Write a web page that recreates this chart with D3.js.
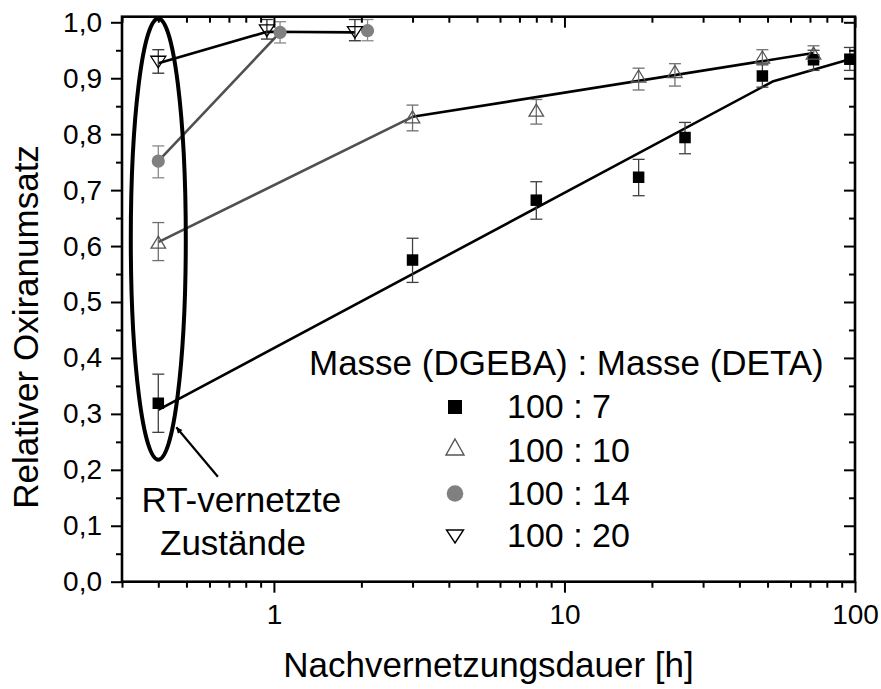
<!DOCTYPE html>
<html><head><meta charset="utf-8">
<script src="https://cdn.jsdelivr.net/npm/d3@7/dist/d3.min.js"></script>
<style>
body{margin:0;background:#fff}
svg{display:block}
text{font-family:"Liberation Sans", Arial, Helvetica, sans-serif;fill:#000}
</style>
</head><body>
<svg id="c" width="881" height="689"></svg>
<script>
// ---------- tick definitions ----------
const xTicksMajor = [1, 10, 100];
const xTickLabels = ["1", "10", "100"];
const xTicksMinor = [0.3, 0.4, 0.5, 0.6, 0.7, 0.8, 0.9, 2, 3, 4, 5, 6, 7, 8, 9, 20, 30, 40, 50, 60, 70, 80, 90];
const yTicksMajor = [0, 0.1, 0.2, 0.3, 0.4, 0.5, 0.6, 0.7, 0.8, 0.9, 1.0];
const yTickLabels = ["0,0", "0,1", "0,2", "0,3", "0,4", "0,5", "0,6", "0,7", "0,8", "0,9", "1,0"];
const yTicksMinor = [0.05, 0.15, 0.25, 0.35, 0.45, 0.55, 0.65, 0.75, 0.85, 0.95];

// ---------- series: 100 : 7 (filled squares) ----------
const t7  = [0.4, 3, 8, 18, 26, 48, 72, 96];
const v7  = [0.319, 0.575, 0.682, 0.723, 0.794, 0.904, 0.933, 0.934];
const lo7 = [0.267, 0.535, 0.648, 0.690, 0.765, 0.884, 0.914, 0.914];
const hi7 = [0.371, 0.614, 0.715, 0.755, 0.821, 0.924, 0.950, 0.955];

// ---------- series: 100 : 10 (open triangles) ----------
const t10  = [0.4, 3, 8, 18, 24, 48, 72];
const v10  = [0.607, 0.831, 0.843, 0.904, 0.912, 0.938, 0.945];
const lo10 = [0.574, 0.806, 0.818, 0.879, 0.886, 0.926, 0.930];
const hi10 = [0.642, 0.852, 0.862, 0.918, 0.926, 0.951, 0.958];

// ---------- series: 100 : 14 (grey circles) ----------
const t14  = [0.4, 1.05, 2.1];
const v14  = [0.752, 0.982, 0.985];
const lo14 = [0.722, 0.963, 0.967];
const hi14 = [0.779, 1.001, 1.005];

// ---------- series: 100 : 20 (open down triangles) ----------
const t20  = [0.4, 0.946, 1.9];
const v20  = [0.929, 0.985, 0.982];
const lo20 = [0.909, 0.970, 0.967];
const hi20 = [0.951, 1.005, 1.005];

// ---------- fitted guide lines ----------
const fit7T  = [0.4, 52, 96];     const fit7V  = [0.307, 0.894, 0.934];
const fit10aT = [0.4, 3];         const fit10aV = [0.607, 0.831];
const fit10bT = [3, 72];          const fit10bV = [0.831, 0.945];
const fit14T = [0.4, 1.05];       const fit14V = [0.752, 0.982];
const fit20T = [0.4, 0.946, 1.9]; const fit20V = [0.927, 0.983, 0.982];

// ---------- legend / labels ----------
const legendTitle = "Masse (DGEBA) : Masse (DETA)";
const legendLabels = ["100 : 7", "100 : 10", "100 : 14", "100 : 20"];
const xTitle = "Nachvernetzungsdauer [h]";
const yTitle = "Relativer Oxiranumsatz";
const noteLines = ["RT-vernetzte", "Zustände"];

// ---------- layout ----------
const L = 122, R = 855, T = 16.7, B = 581.7;
const svg = d3.select("#c");
const x = d3.scaleLog().domain([0.3, 100]).range([L, R]);
const y = d3.scaleLinear().domain([0, 1.01]).range([B, T]);

const GREY_LINE = "#505050";

// ---------- guide lines ----------
const line = d3.line().x(d => x(d[0])).y(d => y(d[1]));
function drawFit(ts, vs, color) {
  svg.append("path").attr("d", line(d3.zip(ts, vs)))
    .attr("fill", "none").attr("stroke", color).attr("stroke-width", 2.6)
    .attr("stroke-linejoin", "round");
}
drawFit(fit7T, fit7V, "#000");
drawFit(fit10aT, fit10aV, GREY_LINE);
drawFit(fit10bT, fit10bV, "#000");
drawFit(fit14T, fit14V, GREY_LINE);
drawFit(fit20T, fit20V, "#000");

// ---------- error bars ----------
function drawErr(ts, lo, hi, color) {
  const g = svg.append("g").attr("stroke", color).attr("stroke-width", 1.3).attr("fill", "none");
  ts.forEach((t, i) => {
    const cx = x(t), y1 = y(lo[i]), y2 = y(hi[i]);
    g.append("line").attr("x1", cx).attr("x2", cx).attr("y1", y1).attr("y2", y2);
    g.append("line").attr("x1", cx - 6).attr("x2", cx + 6).attr("y1", y1).attr("y2", y1);
    g.append("line").attr("x1", cx - 6).attr("x2", cx + 6).attr("y1", y2).attr("y2", y2);
  });
}
drawErr(t7, lo7, hi7, "#404040");
drawErr(t10, lo10, hi10, "#707070");
drawErr(t14, lo14, hi14, "#8a8a8a");
drawErr(t20, lo20, hi20, "#303030");

// ---------- marker shapes ----------
function sqPath(s) { const h = s / 2; return `M${-h},${-h}H${h}V${h}H${-h}Z`; }
function triUp(w, h) { return `M0,${-h/2}L${w/2},${h/2}L${-w/2},${h/2}Z`; }
function triDown(w, h) { return `M0,${h/2}L${w/2},${-h/2}L${-w/2},${-h/2}Z`; }

function drawMarkers(ts, vs, fn) {
  ts.forEach((t, i) => fn(svg.append("g").attr("transform", `translate(${x(t)},${y(vs[i])})`)));
}
const mk7  = g => g.append("path").attr("d", sqPath(11.5)).attr("fill", "#000");
const mk10 = g => g.append("path").attr("d", triUp(14.5, 12)).attr("fill", "none").attr("stroke", "#555").attr("stroke-width", 1.3);
const mk14 = g => g.append("circle").attr("r", 6.6).attr("fill", "#808080");
const mk20 = g => g.append("path").attr("d", triDown(15, 11.5)).attr("fill", "none").attr("stroke", "#000").attr("stroke-width", 1.3);

drawMarkers(t7, v7, mk7);
drawMarkers(t10, v10, mk10);
drawMarkers(t14, v14, mk14);
drawMarkers(t20, v20, mk20);

// ---------- ellipse annotation ----------
const eTop = y(1.007), eBot = y(0.218);
svg.append("ellipse")
  .attr("cx", x(0.4)).attr("cy", (eTop + eBot) / 2)
  .attr("rx", 27.5).attr("ry", (eBot - eTop) / 2)
  .attr("fill", "none").attr("stroke", "#000").attr("stroke-width", 4);

// arrow
svg.append("defs").append("marker").attr("id", "ah")
  .attr("viewBox", "0 0 10 10").attr("refX", 10).attr("refY", 5)
  .attr("markerWidth", 10).attr("markerHeight", 6).attr("markerUnits", "userSpaceOnUse")
  .attr("orient", "auto")
  .append("path").attr("d", "M0,0L10,5L0,10Z").attr("fill", "#000");
svg.append("line")
  .attr("x1", x(0.6415)).attr("y1", y(0.1877))
  .attr("x2", x(0.4614)).attr("y2", y(0.276))
  .attr("stroke", "#000").attr("stroke-width", 2.2).attr("marker-end", "url(#ah)");

svg.append("text").attr("x", 141.5).attr("y", 511.5).attr("font-size", 35).text(noteLines[0]);
svg.append("text").attr("x", 160).attr("y", 555).attr("font-size", 35).text(noteLines[1]);

// ---------- axes ----------
function styleAxis(g) {
  g.select(".domain").remove();
  g.selectAll(".tick line").attr("stroke", "#000").attr("stroke-width", 2);
  g.selectAll(".tick text").attr("font-size", 28).attr("font-family", '"Liberation Sans", Arial, sans-serif').attr("fill", "#000");
}
// bottom
svg.append("g").attr("transform", `translate(0,${B})`)
  .call(d3.axisBottom(x).tickValues(xTicksMajor).tickSize(11).tickPadding(11)
    .tickFormat((d, i) => xTickLabels[i])).call(styleAxis);
svg.append("g").attr("transform", `translate(0,${B})`)
  .call(d3.axisBottom(x).tickValues(xTicksMinor).tickSize(6).tickFormat("")).call(styleAxis);
// top (inward)
svg.append("g").attr("transform", `translate(0,${T})`)
  .call(d3.axisBottom(x).tickValues(xTicksMajor).tickSize(11).tickFormat("")).call(styleAxis);
svg.append("g").attr("transform", `translate(0,${T})`)
  .call(d3.axisBottom(x).tickValues(xTicksMinor).tickSize(6).tickFormat("")).call(styleAxis);
// left
svg.append("g").attr("transform", `translate(${L},0)`)
  .call(d3.axisLeft(y).tickValues(yTicksMajor).tickSize(11).tickPadding(9)
    .tickFormat((d, i) => yTickLabels[i])).call(styleAxis);
svg.append("g").attr("transform", `translate(${L},0)`)
  .call(d3.axisLeft(y).tickValues(yTicksMinor).tickSize(6).tickFormat("")).call(styleAxis);
// right (inward)
svg.append("g").attr("transform", `translate(${R},0)`)
  .call(d3.axisLeft(y).tickValues(yTicksMajor).tickSize(11).tickFormat("")).call(styleAxis);
svg.append("g").attr("transform", `translate(${R},0)`)
  .call(d3.axisLeft(y).tickValues(yTicksMinor).tickSize(6).tickFormat("")).call(styleAxis);

// frame
svg.append("rect").attr("x", L).attr("y", T).attr("width", R - L).attr("height", B - T)
  .attr("fill", "none").attr("stroke", "#000").attr("stroke-width", 2.6);

// titles
svg.append("text").attr("x", (L + R) / 2 + 0).attr("y", 677).attr("text-anchor", "middle")
  .attr("font-size", 35).text(xTitle);
svg.append("text").attr("transform", "translate(38,327) rotate(-90)").attr("text-anchor", "middle")
  .attr("font-size", 35).text(yTitle);

// ---------- legend ----------
svg.append("text").attr("x", 309).attr("y", 375).attr("font-size", 35).text(legendTitle);
const legendRows = [
  {mk: g => g.append("path").attr("d", sqPath(14)).attr("fill", "#000"), cy: 407, base: 418},
  {mk: g => g.append("path").attr("d", triUp(18, 16)).attr("fill", "none").attr("stroke", "#555").attr("stroke-width", 1.4), cy: 447, base: 461.5},
  {mk: g => g.append("circle").attr("r", 8.3).attr("fill", "#808080"), cy: 493.5, base: 505},
  {mk: g => g.append("path").attr("d", triDown(17, 13)).attr("fill", "none").attr("stroke", "#000").attr("stroke-width", 1.4), cy: 536.5, base: 547}
];
legendRows.forEach((r, i) => {
  r.mk(svg.append("g").attr("transform", `translate(455,${r.cy})`));
  svg.append("text").attr("x", 507).attr("y", r.base).attr("font-size", 34).text(legendLabels[i]);
});
</script>
</body></html>
